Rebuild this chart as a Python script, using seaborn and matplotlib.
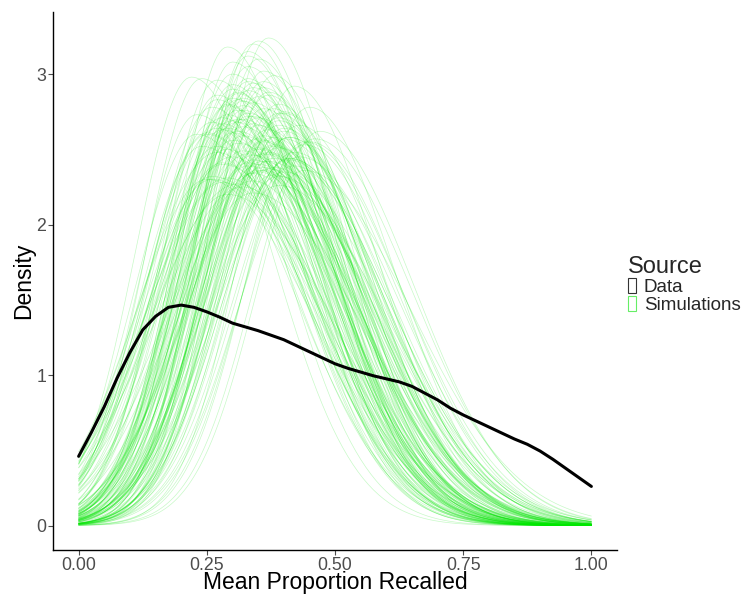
import numpy as np
import pandas as pd
import matplotlib
matplotlib.use("Agg")
import matplotlib.pyplot as plt
import seaborn as sns
from matplotlib.patches import Patch

data_x = [0.000, 0.025, 0.050, 0.075, 0.100, 0.125, 0.150, 0.175, 0.200, 0.225,
          0.250, 0.275, 0.300, 0.325, 0.350, 0.375, 0.400, 0.425, 0.450, 0.475,
          0.500, 0.525, 0.550, 0.575, 0.600, 0.625, 0.650, 0.675, 0.700, 0.725,
          0.750, 0.775, 0.800, 0.825, 0.850, 0.875, 0.900, 0.925, 0.950, 0.975,
          1.000]
data_density = [0.46, 0.62, 0.79, 0.98, 1.15, 1.30, 1.39, 1.45, 1.465, 1.45,
                1.42, 1.385, 1.345, 1.32, 1.295, 1.265, 1.235, 1.195, 1.155, 1.115,
                1.075, 1.045, 1.02, 0.995, 0.975, 0.955, 0.925, 0.88, 0.835, 0.78,
                0.735, 0.695, 0.655, 0.615, 0.575, 0.54, 0.495, 0.44, 0.38, 0.32,
                0.26]

# ---- Simulated densities: per-curve mode, peak height, left spread (estimated) ----
sim_mode = [0.31, 0.35, 0.28, 0.39, 0.33, 0.42, 0.30, 0.36, 0.26, 0.38,
            0.34, 0.29, 0.41, 0.32, 0.37, 0.27, 0.44, 0.33, 0.35, 0.30,
            0.24, 0.36, 0.39, 0.31, 0.28, 0.40, 0.34, 0.37, 0.32, 0.45,
            0.29, 0.35, 0.33, 0.38, 0.27, 0.31, 0.43, 0.36, 0.30, 0.34,
            0.25, 0.39, 0.32, 0.37, 0.41, 0.29, 0.35, 0.33, 0.28, 0.40,
            0.36, 0.31, 0.38, 0.34, 0.47, 0.30, 0.26, 0.37, 0.33, 0.42,
            0.35, 0.29, 0.39, 0.32, 0.36, 0.23, 0.34, 0.40, 0.31, 0.38,
            0.33, 0.27, 0.35, 0.44, 0.30, 0.37, 0.32, 0.39, 0.28, 0.36,
            0.34, 0.41, 0.31, 0.25, 0.38, 0.33, 0.35, 0.29, 0.46, 0.32,
            0.37, 0.30, 0.40, 0.34, 0.27, 0.36, 0.39, 0.33, 0.22, 0.35,
            0.30, 0.26, 0.34, 0.38, 0.29, 0.43, 0.32, 0.36, 0.24, 0.40,
            0.33, 0.28, 0.37, 0.31, 0.45, 0.35, 0.27, 0.39, 0.34, 0.30,
            0.41, 0.25, 0.36, 0.32, 0.38, 0.29, 0.34, 0.42, 0.31, 0.37,
            0.26, 0.35, 0.33, 0.40, 0.28, 0.36, 0.30, 0.44, 0.34, 0.32,
            0.38, 0.27, 0.35, 0.31, 0.39, 0.23, 0.36, 0.33, 0.41, 0.29]
sim_peak = [2.62, 2.85, 2.40, 2.71, 3.05, 2.48, 2.93, 2.55, 2.78, 2.33,
            2.67, 3.18, 2.44, 2.59, 2.88, 2.52, 2.36, 2.74, 3.22, 2.61,
            2.97, 2.47, 2.69, 2.83, 2.28, 2.57, 2.91, 2.42, 2.76, 2.78,
            2.64, 2.51, 3.12, 2.38, 2.86, 2.70, 2.45, 2.95, 2.56, 2.81,
            2.30, 2.66, 2.49, 3.24, 2.58, 2.73, 2.40, 2.89, 2.63, 2.35,
            2.77, 2.54, 2.99, 2.46, 2.62, 2.84, 2.68, 2.37, 2.72, 2.92,
            2.50, 2.80, 2.26, 2.65, 3.02, 2.60, 2.43, 2.75, 2.87, 2.53,
            2.39, 2.96, 2.71, 2.55, 3.08, 2.48, 2.82, 2.32, 2.67, 2.59,
            2.94, 2.44, 2.76, 2.61, 2.52, 3.15, 2.36, 2.79, 2.57, 2.70,
            2.47, 2.90, 2.64, 2.21, 2.83, 2.56, 2.74, 2.41, 2.98, 2.66,
            2.45, 2.30, 2.72, 2.58, 2.20, 2.66, 2.84, 2.36, 2.52, 2.74,
            2.95, 2.41, 2.63, 2.27, 2.55, 3.10, 2.48, 2.80, 2.34, 2.69,
            2.43, 2.60, 2.91, 2.25, 2.77, 2.50, 3.20, 2.39, 2.68, 2.86,
            2.32, 2.57, 2.47, 2.62, 2.71, 2.38, 3.00, 2.53, 2.29, 2.79,
            2.44, 2.64, 2.35, 2.88, 2.51, 2.73, 2.42, 2.97, 2.58, 2.31]
sim_left_sd = [0.12, 0.11, 0.13, 0.12, 0.10, 0.13, 0.11, 0.12, 0.12, 0.14,
               0.12, 0.10, 0.13, 0.12, 0.11, 0.13, 0.13, 0.12, 0.10, 0.12,
               0.11, 0.13, 0.12, 0.11, 0.14, 0.12, 0.11, 0.13, 0.11, 0.12,
               0.12, 0.13, 0.10, 0.13, 0.11, 0.12, 0.13, 0.11, 0.12, 0.11,
               0.14, 0.12, 0.13, 0.10, 0.12, 0.12, 0.13, 0.11, 0.12, 0.14,
               0.11, 0.12, 0.11, 0.13, 0.12, 0.11, 0.12, 0.13, 0.12, 0.11,
               0.13, 0.11, 0.14, 0.12, 0.10, 0.12, 0.13, 0.12, 0.11, 0.13,
               0.13, 0.11, 0.12, 0.12, 0.10, 0.13, 0.11, 0.14, 0.12, 0.12,
               0.11, 0.13, 0.12, 0.12, 0.13, 0.10, 0.14, 0.11, 0.12, 0.12,
               0.13, 0.11, 0.12, 0.15, 0.11, 0.12, 0.12, 0.13, 0.11, 0.12,
               0.16, 0.14, 0.13, 0.14, 0.15, 0.13, 0.12, 0.15, 0.12, 0.12,
               0.11, 0.14, 0.14, 0.17, 0.13, 0.10, 0.15, 0.12, 0.16, 0.14,
               0.14, 0.12, 0.11, 0.17, 0.13, 0.15, 0.10, 0.15, 0.14, 0.12,
               0.13, 0.14, 0.15, 0.13, 0.13, 0.15, 0.11, 0.13, 0.17, 0.12,
               0.14, 0.14, 0.16, 0.12, 0.14, 0.11, 0.15, 0.11, 0.13, 0.16]

x_ticks = [0.00, 0.25, 0.50, 0.75, 1.00]
x_tick_labels = ["0.00", "0.25", "0.50", "0.75", "1.00"]
y_ticks = [0, 1, 2, 3]
y_tick_labels = ["0", "1", "2", "3"]
legend_labels = ["Data", "Simulations"]

SIM_COLOR = "#00E600"

sns.set_theme(style="white")
plt.rcParams["font.family"] = ["Liberation Sans", "DejaVu Sans"]

# Build long table of simulated curves on [0, 1]
grid = np.linspace(0, 1, 201)
frames = []
for i, (m, h, sl) in enumerate(zip(sim_mode, sim_peak, sim_left_sd)):
    sr = 2.0 / (h * np.sqrt(2 * np.pi)) - sl
    sd = np.where(grid < m, sl, sr)
    dens = h * np.exp(-0.5 * ((grid - m) / sd) ** 2)
    frames.append(pd.DataFrame({"x": grid, "density": dens, "sim": i}))
sims = pd.concat(frames, ignore_index=True)
data_df = pd.DataFrame({"x": data_x, "density": data_density})

fig = plt.figure(figsize=(7.42, 5.94), dpi=100)
ax = fig.add_axes([53 / 742, 1 - 550 / 594, (617 - 53) / 742, (550 - 12) / 594])

sns.lineplot(data=sims, x="x", y="density", units="sim", estimator=None,
             color=SIM_COLOR, alpha=0.22, lw=0.5, ax=ax, legend=False)
sns.lineplot(data=data_df, x="x", y="density", color="black", lw=2.2, ax=ax)

ax.set_xlim(-0.05, 1.05)
ax.set_ylim(-0.1625, 3.4125)
ax.set_xticks(x_ticks)
ax.set_xticklabels(x_tick_labels)
ax.set_yticks(y_ticks)
ax.set_yticklabels(y_tick_labels)
ax.tick_params(axis="both", which="both", length=3.5, width=0.8, color="#4D4D4D",
               labelcolor="#4D4D4D", labelsize=12.8, pad=1.5, bottom=True, left=True)

for s in ["top", "right"]:
    ax.spines[s].set_visible(False)
for s in ["left", "bottom"]:
    ax.spines[s].set_color("black")
    ax.spines[s].set_linewidth(1.0)

ax.set_xlabel("Mean Proportion Recalled", fontsize=16.5, color="black", labelpad=-2)
ax.set_ylabel("Density", fontsize=16.5, color="black", labelpad=1)
ax.grid(False)

handles = [Patch(facecolor="none", edgecolor="#333333", lw=0.8),
           Patch(facecolor="none", edgecolor="#66EE66", lw=0.8)]
fig.legend(handles, legend_labels, title="Source", loc="upper left",
           bbox_to_anchor=(628 / 742, 1 - 256 / 594), frameon=False,
           fontsize=13.5, title_fontsize=17, handlelength=0.45, handleheight=0.85,
           handletextpad=0.4, labelspacing=0.0, borderpad=0, borderaxespad=0,
           alignment="left")

fig.savefig("out.png", dpi=100, facecolor="white")
